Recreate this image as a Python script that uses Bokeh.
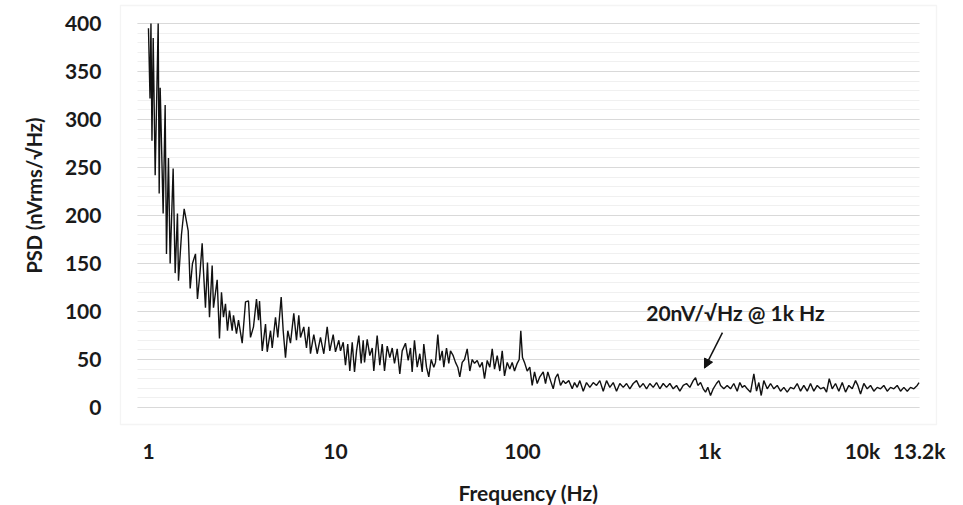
import math
from bokeh.plotting import figure
from bokeh.models import FixedTicker, Label, Arrow, NormalHead, Range1d, BoxAnnotation
from bokeh.embed import file_html
from bokeh.resources import INLINE

FREQ_HZ = [
    1.00, 1.019, 1.031, 1.044, 1.06, 1.086, 1.127, 1.141, 1.155, 1.198,
    1.228, 1.248, 1.279, 1.306, 1.355, 1.389, 1.429, 1.447, 1.501, 1.552,
    1.631, 1.671, 1.719, 1.784, 1.828, 1.885, 1.937, 1.968, 2.017, 2.068,
    2.120, 2.191, 2.227, 2.330, 2.397, 2.457, 2.518, 2.581, 2.645, 2.712,
    2.803, 2.849, 2.956, 3.030, 3.171, 3.303, 3.427, 3.512, 3.644, 3.781,
    3.876, 3.925, 4.058, 4.226, 4.315, 4.494, 4.589, 4.778, 4.915, 5.125,
    5.253, 5.404, 5.559, 5.746, 5.985, 6.187, 6.365, 6.500, 6.769, 6.998,
    7.199, 7.351, 7.656, 7.984, 8.316, 8.661, 9.031, 9.325, 9.723, 10.00,
    10.42, 10.64, 11.00, 11.31, 11.63, 11.93, 12.29, 12.64, 12.96, 13.33,
    13.72, 14.07, 14.30, 14.78, 15.26, 15.72, 16.03, 16.71, 17.26, 17.78,
    18.29, 18.91, 19.52, 20.11, 20.68, 21.38, 22.08, 22.74, 23.68, 24.48,
    25.18, 25.71, 26.45, 27.35, 28.24, 29.09, 29.67, 30.67, 31.55, 32.50,
    33.56, 34.27, 35.26, 36.14, 37.22, 37.96, 39.24, 40.36, 41.22, 42.61,
    43.83, 45.09, 46.21, 47.61, 48.98, 50.63, 52.28, 53.85, 55.40, 57.28,
    59.14, 60.92, 62.66, 64.78, 66.89, 68.90, 70.88, 73.27, 75.65, 77.92,
    80.15, 82.87, 85.56, 88.10, 90.66, 93.72, 96.05, 97.95, 100.0, 102.9,
    106.0, 109.4, 112.7, 116.0, 119.9, 123.8, 129.1, 132.8, 136.6, 141.2,
    146.0, 150.2, 154.5, 159.7, 165.1, 169.9, 176.9, 184.5, 189.8, 196.2,
    202.6, 211.3, 220.0, 229.2, 239.0, 248.9, 259.2, 270.3, 281.5, 293.2,
    305.7, 318.4, 331.6, 345.8, 360.2, 375.0, 391.0, 407.3, 424.2, 442.3,
    460.7, 479.8, 500.2, 521.0, 542.6, 565.8, 589.3, 613.7, 640.0, 666.5,
    694.2, 723.9, 753.9, 785.1, 818.7, 842.3, 866.5, 895.9, 926.1, 952.5,
    979.8, 1013, 1047, 1090, 1122, 1146, 1193, 1244, 1296, 1349,
    1407, 1453, 1497, 1539, 1591, 1658, 1727, 1785, 1836, 1891,
    1952, 2036, 2121, 2209, 2303, 2399, 2498, 2604, 2713, 2825,
    2945, 3068, 3195, 3332, 3470, 3614, 3769, 3925, 4088, 4226,
    4369, 4533, 4721, 4917, 5128, 5340, 5562, 5799, 6040, 6214,
    6423, 6690, 6976, 7265, 7566, 7889, 8216, 8556, 8923, 9294,
    9678, 10090, 10510, 10950, 11420, 11890, 12380, 12910, 13200,
]

PSD_NV = [
    395, 322, 400, 278, 385, 242, 400, 223, 333, 202,
    315, 160, 260, 150, 249, 140, 202, 132, 180, 207,
    184, 124, 150, 160, 113, 140, 171, 143, 104, 151,
    94, 148, 104, 133, 72, 120, 94, 108, 80, 101,
    80, 96, 77, 91, 67, 110, 111, 73, 84, 113,
    91, 111, 59, 87, 58, 80, 62, 94, 73, 115,
    80, 52, 80, 67, 98, 70, 96, 73, 84, 62,
    84, 56, 76, 56, 73, 56, 84, 59, 76, 58,
    70, 59, 68, 44, 66, 38, 68, 37, 59, 75,
    46, 70, 47, 71, 54, 62, 38, 75, 44, 66,
    38, 64, 52, 62, 46, 61, 35, 59, 67, 49,
    62, 37, 70, 42, 56, 37, 66, 42, 32, 50,
    42, 47, 76, 49, 59, 42, 62, 46, 59, 54,
    47, 42, 32, 47, 50, 61, 38, 50, 46, 49,
    42, 47, 30, 49, 42, 61, 40, 54, 38, 59,
    33, 47, 40, 47, 38, 46, 50, 80, 52, 46,
    38, 42, 23, 37, 25, 32, 37, 25, 37, 28,
    19.5, 31, 35, 23, 28, 25, 28, 19.5, 26, 21,
    28, 17, 26, 21, 26, 23, 28, 17, 28, 21,
    26, 17, 25, 21, 25, 19.5, 25, 28, 21, 25,
    19.5, 25, 21, 26, 19.5, 25, 21, 25, 19.5, 23,
    17, 23, 25, 21, 28, 31, 23, 26, 19.5, 16,
    21, 12.5, 19.5, 25, 28, 23, 19.5, 23, 19.5, 25,
    17, 26, 21, 23, 19.5, 16, 35, 17, 26, 12.5,
    28, 19.5, 25, 19.5, 23, 17, 21, 16, 21, 19.5,
    25, 17, 23, 17, 25, 17, 23, 19.5, 21, 16,
    30, 19.5, 25, 17, 26, 16, 23, 19.5, 28, 23,
    14, 25, 19.5, 23, 17, 21, 19.5, 23, 17, 21,
    19.5, 23, 17, 21, 17, 21, 19.5, 23, 26,
]

X_TICKS = [1, 10, 100, 1000, 13200]
X_TICK_LABELS = ["1", "10", "100", "1k", "13.2k"]
X_EXTRA_TICK = 10000
X_EXTRA_LABEL = "10k"
Y_TICKS = [0, 50, 100, 150, 200, 250, 300, 350, 400]
Y_MINOR_TICKS = [v for v in range(0, 401, 10)]

FONT = "Lato"
TXT = "#1a1a1a"
FS = "21px"

# chart-area box and plot-area extents, in data units
BOX_LEFT, BOX_RIGHT, BOX_BOTTOM, BOX_TOP = 0.7083, 16362, -17.7, 418.75
X_LEFT, X_RIGHT = 0.873, 13250

p = figure(width=963, height=505, x_axis_type="log",
           x_range=Range1d(0.1617, 22823), y_range=Range1d(-102.08, 423.96),
           output_backend="svg", toolbar_location=None,
           min_border_left=0, min_border_right=0,
           min_border_top=0, min_border_bottom=0)

p.background_fill_color = "white"
p.border_fill_color = "white"
p.outline_line_color = None

# y axis (sits on the left edge of the chart box)
yt = FixedTicker(ticks=Y_TICKS, minor_ticks=Y_MINOR_TICKS)
ya = p.yaxis[0]
ya.ticker = yt
ya.fixed_location = BOX_LEFT
ya.axis_line_color = None
ya.major_tick_line_color = None
ya.minor_tick_line_color = None
ya.major_tick_out = 0
ya.major_tick_in = 0
ya.minor_tick_out = 0
ya.minor_tick_in = 0
ya.major_label_standoff = 19
ya.major_label_text_font = FONT
ya.major_label_text_font_style = "bold"
ya.major_label_text_font_size = FS
ya.major_label_text_color = TXT

# x axis (sits on the bottom edge of the chart box)
xa = p.xaxis[0]
xa.ticker = FixedTicker(ticks=X_TICKS)
xa.major_label_overrides = {t: s for t, s in zip(X_TICKS, X_TICK_LABELS)}
xa.fixed_location = BOX_BOTTOM
xa.axis_line_color = None
xa.major_tick_line_color = None
xa.minor_tick_line_color = None
xa.major_tick_out = 0
xa.major_tick_in = 0
xa.minor_tick_out = 0
xa.minor_tick_in = 0
xa.major_label_standoff = 14
xa.major_label_text_font = FONT
xa.major_label_text_font_style = "bold"
xa.major_label_text_font_size = FS
xa.major_label_text_color = TXT

# grid
p.xgrid.visible = False
p.ygrid.ticker = yt
p.ygrid.grid_line_color = "#d9d9d9"
p.ygrid.grid_line_width = 1.2
p.ygrid.minor_grid_line_color = "#f0f0f0"
p.ygrid.minor_grid_line_width = 1.2
try:
    p.ygrid[0].cross_bounds = (X_LEFT, X_RIGHT)
except Exception:
    p.ygrid.visible = False
    p.segment(x0=[X_LEFT] * len(Y_MINOR_TICKS), y0=Y_MINOR_TICKS,
              x1=[X_RIGHT] * len(Y_MINOR_TICKS), y1=Y_MINOR_TICKS,
              line_color="#f0f0f0", line_width=1.2, level="underlay")
    p.segment(x0=[X_LEFT] * len(Y_TICKS), y0=Y_TICKS,
              x1=[X_RIGHT] * len(Y_TICKS), y1=Y_TICKS,
              line_color="#d9d9d9", line_width=1.2, level="underlay")

# chart-area border
p.add_layout(BoxAnnotation(left=BOX_LEFT, right=BOX_RIGHT, bottom=BOX_BOTTOM, top=BOX_TOP,
                           fill_color=None, line_color="#d9d9d9", line_width=1.3,
                           level="underlay"))

# data
p.line(FREQ_HZ, PSD_NV, line_color="#111111", line_width=1.4)

# "10k" tick label (placed by hand in the original, left of its true spot)
p.add_layout(Label(x=X_EXTRA_TICK, y=BOX_BOTTOM - 14 / 0.96, x_offset=-34,
                   text=X_EXTRA_LABEL, text_align="center", text_baseline="top",
                   text_font=FONT, text_font_style="bold",
                   text_font_size=FS, text_color=TXT))

# axis titles
p.add_layout(Label(x=0.2457, y=220.8, text="PSD (nVrms/\u221aHz)", angle=math.pi / 2,
                   text_align="center", text_baseline="middle",
                   text_font=FONT, text_font_style="bold",
                   text_font_size="20px", text_color=TXT))
p.add_layout(Label(x=107.7, y=-88.5, text="Frequency (Hz)",
                   text_align="center", text_baseline="middle",
                   text_font=FONT, text_font_style="bold",
                   text_font_size=FS, text_color=TXT))

# annotation
p.add_layout(Label(x=1377, y=99, text="20nV/\u221aHz @ 1k Hz",
                   text_align="center", text_baseline="middle",
                   text_font=FONT, text_font_style="bold",
                   text_font_size=FS, text_color=TXT))
p.add_layout(Arrow(end=NormalHead(size=9, fill_color="#111111", line_color="#111111"),
                   x_start=1173, y_start=78, x_end=940, y_end=41,
                   line_color="#111111", line_width=1.5))

open("out.html", "w").write(file_html(p, INLINE))
